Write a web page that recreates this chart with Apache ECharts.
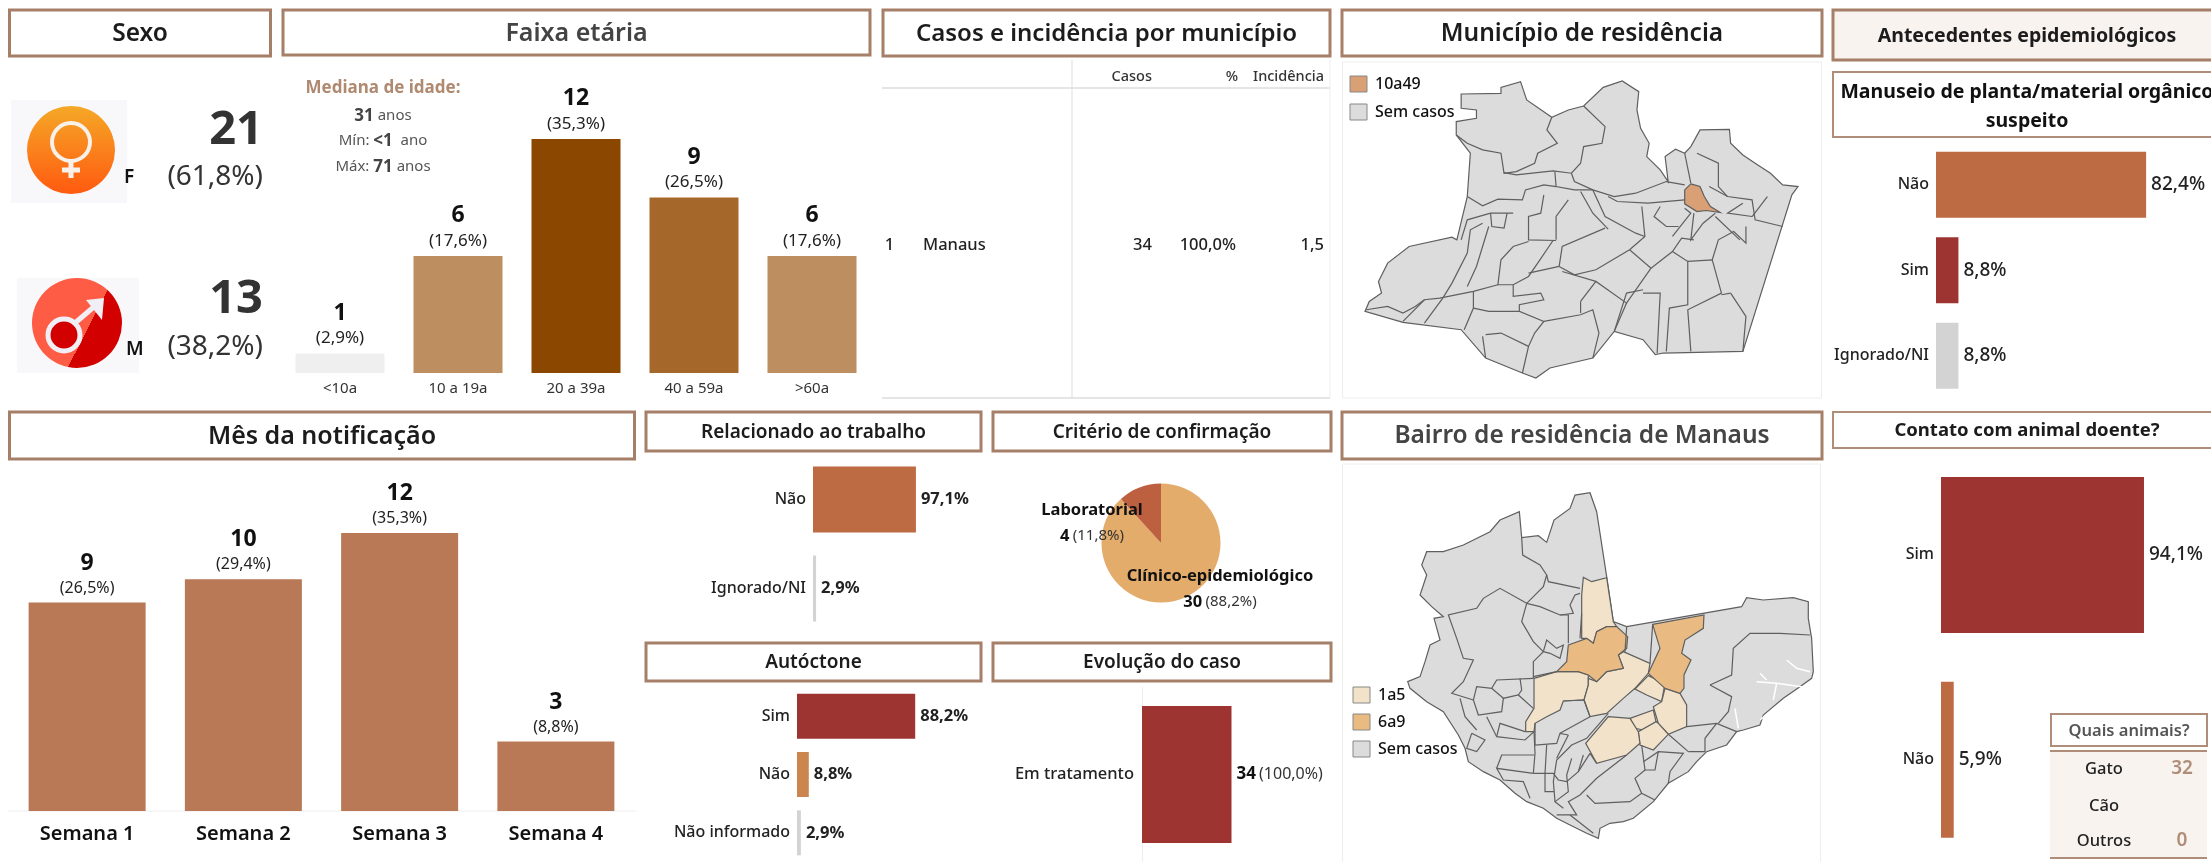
<!DOCTYPE html>
<html lang="pt">

<head>
  <meta charset="utf-8" />
  <style>
    html, body { margin: 0; height: 100%; background: #fff; }
    #container { width: 2211px; height: 862px; }
  </style>
</head>

<body>
  <div id="container"></div>
  <script src="https://cdn.jsdelivr.net/npm/echarts@6/dist/echarts.min.js"></script>
  <script>
    // ---- data ----
    const sexoLabels = ["F", "M"];
    const sexoCasos = [21, 13];
    const sexoPct = ["61,8%", "38,2%"];

    const faixaCats = ["<10a", "10 a 19a", "20 a 39a", "40 a 59a", ">60a"];
    const faixaCasos = [1, 6, 12, 9, 6];
    const faixaPct = ["2,9%", "17,6%", "35,3%", "26,5%", "17,6%"];
    const faixaCores = ["#efefef", "#bd8e5f", "#8b4700", "#a5682a", "#bd8e5f"];

    const semanaCats = ["Semana 1", "Semana 2", "Semana 3", "Semana 4"];
    const semanaCasos = [9, 10, 12, 3];
    const semanaPct = ["26,5%", "29,4%", "35,3%", "8,8%"];

    const trabalhoCats = ["Não", "Ignorado/NI"];
    const trabalhoPct = [97.1, 2.9];
    const autoctoneCats = ["Sim", "Não", "Não informado"];
    const autoctonePct = [88.2, 8.8, 2.9];
    const evolucaoCats = ["Em tratamento"];
    const evolucaoCasos = [34];
    const evolucaoPct = ["100,0%"];
    const manuseioCats = ["Não", "Sim", "Ignorado/NI"];
    const manuseioPct = [82.4, 8.8, 8.8];
    const contatoCats = ["Sim", "Não"];
    const contatoPct = [94.1, 5.9];

    const criterioCats = ["Clínico-epidemiológico", "Laboratorial"];
    const criterioCasos = [30, 4];
    const criterioPct = ["88,2%", "11,8%"];

    const tabelaHeader = ["Casos", "%", "Incidência"];
    const tabelaLinha = ["1", "Manaus", "34", "100,0%", "1,5"];

    const animaisCats = ["Gato", "Cão", "Outros"];
    const animaisVals = ["32", "", "0"];

    // municipalities of the state, traced by eye
    const amazonasContorno = [[965,282],[1030,280],[1030,262],[1062,245],[1072,300],[1113,352],[1140,330],[1165,318],[1197,262],[1228,243],[1255,275],[1252,330],[1258,385],[1272,430],[1268,470],[1290,510],[1303,545],[1298,470],[1315,448],[1330,460],[1340,440],[1355,390],[1403,388],[1405,430],[1425,465],[1445,490],[1470,520],[1490,555],[1515,560],[1505,585],[1425,1055],[1295,1060],[1282,1065],[1262,1020],[1215,995],[1180,1075],[1110,1105],[1087,1135],[1065,1120],[1005,1075],[965,990],[870,968],[808,935],[815,905],[835,880],[830,845],[845,790],[880,740],[950,712],[958,720],[975,590],[980,460],[957,405],[957,365],[990,355],[990,330],[965,325]];
    const amazonasManaus = [[1340,552],[1355,560],[1362,590],[1372,620],[1388,638],[1365,632],[1350,635],[1330,612],[1330,570]];
    const amazonasLimites = [
      [[1113,352],[1105,390],[1122,430],[1090,460],[1085,490],[1055,515],[1035,520],[1030,460],[1000,450],[975,430],[957,405]],
      [[1165,318],[1200,380],[1195,430],[1165,440],[1160,490],[1145,520],[1115,513],[1055,525],[1035,518]],
      [[1118,515],[1120,560],[1150,570],[1180,570],[1215,590],[1250,580],[1300,545],[1330,555]],
      [[1145,520],[1150,545],[1180,570]],
      [[975,590],[1000,618],[1025,598],[1065,600],[1070,570],[1100,555],[1120,560]],
      [[1330,600],[1270,610],[1220,605],[1205,590]],
      [[1160,575],[1180,640],[1205,688]],
      [[1180,570],[1200,650],[1250,700],[1265,710]],
      [[1100,585],[1095,640],[1075,650],[1075,720],[1120,722]],
      [[1140,600],[1120,650],[1120,720]],
      [[1200,685],[1130,740],[1125,800]],
      [[1115,722],[1090,790],[1075,830],[1050,855],[1025,855],[1030,780],[1050,740],[1075,725]],
      [[1125,800],[1075,820]],
      [[1125,800],[1150,825],[1185,810],[1240,750]],
      [[1050,640],[1013,640],[975,660],[965,720]],
      [[1013,640],[1015,680],[1035,685],[1040,640]],
      [[1000,670],[980,690],[975,760],[950,850],[935,895],[905,970]],
      [[1010,680],[990,800],[975,860]],
      [[1025,855],[985,875],[930,895],[905,900],[870,965]],
      [[810,930],[845,920],[870,940],[890,920],[905,900]],
      [[1050,855],[1050,890],[1095,880],[1100,900],[1060,915],[1060,935],[1100,965],[1085,1000],[1075,1040],[1065,1120]],
      [[985,875],[985,925],[970,990]],
      [[985,925],[1010,935],[1060,935]],
      [[1100,965],[1160,945],[1180,930],[1190,1000],[1180,1075]],
      [[1160,905],[1185,845],[1235,910],[1215,995]],
      [[1160,905],[1160,940]],
      [[1185,845],[1130,815]],
      [[1005,1005],[1030,1000],[1075,1040]],
      [[1005,1075],[1000,1010]],
      [[1240,750],[1275,805],[1310,755],[1325,715],[1345,720]],
      [[1275,805],[1235,910]],
      [[1335,785],[1335,915],[1305,925],[1300,1055]],
      [[1310,755],[1335,785],[1375,780],[1390,880],[1335,930],[1340,1055]],
      [[1405,880],[1390,885]],
      [[1405,880],[1430,950],[1425,1055]],
      [[1262,880],[1290,880],[1285,1060]],
      [[1215,995],[1235,880],[1262,870]],
      [[1375,780],[1385,720],[1410,695],[1430,730],[1430,680]],
      [[1240,750],[1265,710],[1260,620]],
      [[1330,625],[1340,640],[1310,710]],
      [[1345,640],[1340,720],[1360,670],[1380,640]],
      [[1290,620],[1280,650],[1300,680],[1320,680]],
      [[1370,560],[1400,590],[1440,600],[1445,660],[1490,680]],
      [[1400,590],[1385,560],[1385,490],[1350,460]],
      [[1425,610],[1400,640],[1440,650]],
      [[1465,590],[1440,650]],
      [[1340,550],[1330,460]],
      [[1380,650],[1420,720]]
    ];

    // neighbourhoods of Manaus, traced by eye
    const manausContorno = [[233,830],[270,815],[285,770],[300,720],[330,705],[312,640],[340,635],[305,605],[270,570],[290,510],[275,480],[290,440],[340,440],[400,420],[480,380],[510,345],[568,320],[575,398],[625,392],[650,412],[672,345],[720,310],[735,270],[780,263],[800,320],[830,515],[850,650],[890,665],[1235,605],[1250,578],[1300,585],[1390,578],[1435,590],[1435,640],[1445,700],[1450,800],[1445,820],[1410,845],[1360,880],[1300,930],[1290,960],[1240,975],[1220,980],[1190,1020],[1130,1040],[1100,1070],[1075,1100],[1015,1135],[970,1190],[910,1240],[880,1250],[840,1255],[810,1270],[805,1300],[770,1285],[720,1260],[680,1240],[640,1210],[590,1190],[555,1165],[510,1125],[460,1100],[415,1070],[405,1030],[385,990],[340,920],[290,890],[240,850]];
    const bairros6a9 = [
      [[715,720],[770,700],[790,715],[800,680],[830,665],[860,665],[893,695],[890,730],[865,750],[880,790],[830,800],[800,830],[775,810],[745,800],[680,800],[710,770]],
      [[968,658],[1122,630],[1120,670],[1065,705],[1055,745],[1083,765],[1062,810],[1062,850],[1050,865],[1005,850],[955,805],[990,730]]
    ];
    const bairros1a5 = [
      [[760,517],[785,530],[830,518],[850,650],[860,665],[830,665],[800,680],[790,715],[770,700],[755,700],[755,570]],
      [[612,820],[680,800],[745,800],[775,810],[775,840],[762,885],[700,888],[690,915],[650,935],[615,955],[612,980],[587,980],[587,950],[612,910]],
      [[880,740],[960,775],[955,805],[915,850],[880,880],[830,925],[780,935],[762,885],[775,840],[775,820],[800,830],[830,800],[880,790],[865,750]],
      [[955,812],[1005,835],[995,890],[950,870],[915,852]],
      [[1005,850],[1050,865],[1070,900],[1070,965],[1015,988],[985,955],[970,905],[995,890]],
      [[900,940],[970,915],[978,950],[940,975],[915,970]],
      [[985,955],[1015,988],[970,1035],[930,1020],[925,980],[978,950]],
      [[835,935],[900,940],[925,980],[930,1015],[890,1050],[800,1075],[767,1015]]
    ];
    const manausLimites = [
      [[575,398],[578,450],[630,480],[650,510],[640,545],[590,595]],
      [[650,510],[655,530],[750,550]],
      [[590,595],[510,550],[460,580],[440,610],[355,630],[380,700],[400,760],[430,765],[400,830],[365,865],[430,885]],
      [[590,595],[575,650],[610,710],[640,740],[610,770],[610,820]],
      [[590,595],[630,605],[690,630],[715,630],[715,715]],
      [[750,565],[735,570],[720,600],[730,625],[690,630]],
      [[755,625],[750,700]],
      [[640,740],[650,705],[680,730],[700,720],[690,760],[660,745],[640,740]],
      [[610,820],[500,825],[485,850],[440,845],[430,885],[445,930],[515,920],[520,880],[565,870],[610,910]],
      [[570,820],[575,855],[565,870]],
      [[485,850],[520,880]],
      [[680,800],[610,815]],
      [[390,880],[405,935],[440,975]],
      [[470,935],[500,995],[585,1005],[612,980]],
      [[500,995],[510,955],[585,980]],
      [[612,980],[615,1045],[610,1105]],
      [[615,955],[615,1020],[680,1015],[690,985],[715,990]],
      [[700,888],[762,885],[780,935],[690,985]],
      [[835,925],[770,1000],[725,1020],[680,1065],[670,1130],[675,1190]],
      [[715,990],[680,1060]],
      [[650,1020],[645,1105],[645,1160],[672,1160]],
      [[500,1090],[515,1050],[590,1050],[612,1050]],
      [[425,985],[465,1005],[440,1040],[410,1030],[425,985]],
      [[610,1105],[500,1090],[520,1125],[580,1130],[600,1180]],
      [[610,1105],[670,1105],[685,1125],[710,1130],[745,1100],[780,1045]],
      [[780,1045],[800,1075]],
      [[760,1050],[745,1100]],
      [[725,1060],[710,1110],[715,1160],[675,1190],[700,1210]],
      [[890,1050],[800,1120],[750,1170],[715,1190],[740,1230],[680,1230]],
      [[935,1020],[945,1095],[915,1120],[935,1165],[975,1185]],
      [[940,1070],[985,1040],[1060,1045],[1020,1100],[1015,1135]],
      [[985,1040],[975,1095],[945,1095]],
      [[770,1170],[795,1195],[900,1190],[935,1165]],
      [[720,1230],[790,1285]],
      [[1070,965],[1160,955],[1220,980]],
      [[1160,955],[1125,1000],[1125,1040],[1075,1040]],
      [[1015,988],[1075,1040]],
      [[890,665],[885,740]],
      [[968,658],[960,775]],
      [[1140,840],[1205,875],[1195,920],[1165,955]],
      [[1140,840],[1205,810],[1210,730],[1260,685],[1350,685],[1440,690]]
    ];
    const manausRios = [
      [[1280,830],[1340,835],[1415,845]],
      [[1340,835],[1330,885]],
      [[1290,805],[1310,825]],
      [[1370,765],[1400,790],[1440,800]],
      [[1215,910],[1225,970]],
      [[1290,945],[1350,895]]
    ];

    const FONT = '"Noto Sans", sans-serif';
    const BORDA = "#a67f68";
    const TXT = "#222";

    function feature(name, pts) {
      const ring = pts.concat([pts[0]]).map(function (p) { return [p[0], -p[1]]; });
      return { type: "Feature", properties: { name: name }, geometry: { type: "Polygon", coordinates: [ring] } };
    }
    function limites(list) {
      return list.map(function (l) {
        return { coords: l.map(function (p) { return [p[0], -p[1]]; }) };
      });
    }

    const amazonasGeo = { type: "FeatureCollection", features: [feature("Amazonas", amazonasContorno), feature("Manaus", amazonasManaus)] };
    const manausFeatures = [feature("Manaus", manausContorno)];
    const manausRegions = [];
    bairros1a5.forEach(function (b, i) {
      manausFeatures.push(feature("a" + i, b));
      manausRegions.push({ name: "a" + i, itemStyle: { areaColor: "#f1e2c9" } });
    });
    bairros6a9.forEach(function (b, i) {
      manausFeatures.push(feature("b" + i, b));
      manausRegions.push({ name: "b" + i, itemStyle: { areaColor: "#e9bb83" } });
    });
    echarts.registerMap("amazonas", amazonasGeo);
    echarts.registerMap("manaus", { type: "FeatureCollection", features: manausFeatures });

    var dom = document.getElementById("container");
    var myChart = echarts.init(dom, null, { renderer: "canvas" });

    // ---- small helpers for the graphic layer ----
    var g = [];
    function rect(x, y, w, h, stroke, lw, fill) {
      g.push({ type: "rect", z: 1, silent: true, shape: { x: x, y: y, width: w, height: h }, style: { fill: fill || "none", stroke: stroke, lineWidth: lw } });
    }
    function txt(x, y, text, size, opts) {
      opts = opts || {};
      g.push({
        type: "text", z: 20, silent: true, x: x, y: y,
        style: {
          text: text, fontFamily: FONT, fontSize: size, fontWeight: opts.weight || "normal",
          fill: opts.color || TXT, align: opts.align || "center", verticalAlign: "middle", rich: opts.rich
        }
      });
    }
    function line(x1, y1, x2, y2, color, lw) {
      g.push({ type: "line", z: 1, silent: true, shape: { x1: x1, y1: y1, x2: x2, y2: y2 }, style: { stroke: color, lineWidth: lw } });
    }
    function titleBox(x, y, w, h, text, size, opts) {
      opts = opts || {};
      rect(x, y, w, h, opts.stroke || BORDA, opts.lw || 3, opts.fill);
      txt(opts.cx || x + w / 2, y + h / 2 + 1, text, size, { weight: opts.weight || 600, color: opts.color || "#1c1c1c" });
    }

    titleBox(9.5, 10, 261, 46, "Sexo", 24.5);
    titleBox(283, 10, 587, 45, "Faixa etária", 25, { color: "#444" });
    titleBox(883, 10, 447, 46, "Casos e incidência por município", 24);
    titleBox(1342, 10, 480, 46, "Município de residência", 24.5);
    titleBox(1833, 10, 390, 50, "Antecedentes epidemiológicos", 19.5, { fill: "#f8f3ef", weight: 700, cx: 2027 });
    rect(1833, 72, 390, 65, "#b08d78", 2);
    txt(2027, 92, "Manuseio de planta/material orgânico", 19.5, { weight: 700, color: "#111" });
    txt(2027, 121, "suspeito", 19.5, { weight: 700, color: "#111" });
    titleBox(9.5, 412, 625, 47, "Mês da notificação", 25);
    titleBox(646, 412, 335, 39, "Relacionado ao trabalho", 19);
    titleBox(993, 412, 338, 39, "Critério de confirmação", 19);
    titleBox(646, 643, 335, 38, "Autóctone", 19);
    titleBox(993, 643, 338, 38, "Evolução do caso", 19);
    titleBox(1342, 412, 480, 47, "Bairro de residência de Manaus", 24.5, { color: "#444" });
    titleBox(1833, 412, 390, 36, "Contato com animal doente?", 18.5, { lw: 2, stroke: "#b08d78", weight: 700, cx: 2027 });

    // panel hairlines
    rect(1342.5, 62, 479, 336, "#eeeeee", 1);
    rect(1342.5, 464, 478, 410, "#eeeeee", 1);
    line(1072, 60, 1072, 398, "#dddddd", 1);
    line(882, 88, 1330, 88, "#dddddd", 1.5);
    line(882, 398, 1330, 398, "#dddddd", 1.5);
    line(1330, 60, 1330, 398, "#eeeeee", 1);
    line(8, 811, 636, 811, "#eeeeee", 1);

    // table
    [1152, 1238, 1324].forEach(function (x, i) {
      txt(x, 77, tabelaHeader[i], 14.5, { align: "right", color: "#333", weight: 500 });
    });
    txt(889.5, 245, tabelaLinha[0], 16.5, { weight: 500 });
    txt(923, 245, tabelaLinha[1], 16.5, { align: "left", weight: 500 });
    txt(1152, 245, tabelaLinha[2], 16.5, { align: "right", weight: 500 });
    txt(1236, 245, tabelaLinha[3], 16.5, { align: "right", weight: 500 });
    txt(1324, 245, tabelaLinha[4], 16.5, { align: "right", weight: 500 });

    // sex icons
    rect(11, 100, 116, 103, "none", 0, "#f8f8fb");
    rect(17, 278, 122, 95, "none", 0, "#f8f8fb");
    g.push({
      type: "circle", z: 2, silent: true, shape: { cx: 71, cy: 150, r: 44 },
      style: { fill: new echarts.graphic.LinearGradient(0, 0, 0, 1, [{ offset: 0, color: "#f5a827" }, { offset: 1, color: "#ff5a10" }]) }
    });
    g.push({ type: "circle", z: 3, silent: true, shape: { cx: 71, cy: 142, r: 19 }, style: { fill: "none", stroke: "#f8f1ea", lineWidth: 4 } });
    g.push({ type: "line", z: 3, silent: true, shape: { x1: 71, y1: 161, x2: 71, y2: 178 }, style: { stroke: "#f8f1ea", lineWidth: 5 } });
    g.push({ type: "line", z: 3, silent: true, shape: { x1: 62, y1: 170, x2: 80, y2: 170 }, style: { stroke: "#f8f1ea", lineWidth: 5 } });
    g.push({
      type: "circle", z: 2, silent: true, shape: { cx: 77, cy: 323, r: 45 },
      style: {
        fill: new echarts.graphic.LinearGradient(0.15, 0.37, 1.05, 0.83, [
          { offset: 0, color: "#ff5c45" }, { offset: 0.5, color: "#ff5c45" },
          { offset: 0.5, color: "#d30000" }, { offset: 1, color: "#d30000" }
        ])
      }
    });
    g.push({ type: "circle", z: 3, silent: true, shape: { cx: 64, cy: 335, r: 16 }, style: { fill: "#d30000", stroke: "#f0eff6", lineWidth: 5 } });
    g.push({ type: "line", z: 3, silent: true, shape: { x1: 75, y1: 323, x2: 96, y2: 305 }, style: { stroke: "#f0eff6", lineWidth: 5 } });
    g.push({ type: "polygon", z: 3, silent: true, shape: { points: [[104, 298], [86, 300], [102, 320]] }, style: { fill: "#f0eff6" } });

    txt(124, 178, sexoLabels[0], 19, { align: "left", weight: 600, color: "#111" });
    txt(126, 350, sexoLabels[1], 19, { align: "left", weight: 600, color: "#111" });
    txt(263, 131, String(sexoCasos[0]), 47, { align: "right", weight: "bold", color: "#333" });
    txt(263, 177, "(" + sexoPct[0] + ")", 28, { align: "right", color: "#333" });
    txt(263, 300, String(sexoCasos[1]), 47, { align: "right", weight: "bold", color: "#333" });
    txt(263, 347, "(" + sexoPct[1] + ")", 28, { align: "right", color: "#333" });

    // median block
    var bold = { n: { fontFamily: FONT, fontSize: 17, fontWeight: "bold", fill: "#444" }, t: { fontFamily: FONT, fontSize: 15, fill: "#555" } };
    txt(383, 88, "Mediana de idade:", 17, { weight: "bold", color: "#b08a70" });
    txt(383, 116, "{n|31} {t|anos}", 15, { rich: bold });
    txt(383, 141, "{t|Mín:} {n|<1} {t| ano}", 15, { rich: bold });
    txt(383, 167, "{t|Máx:} {n|71} {t|anos}", 15, { rich: bold });

    // map legends
    function legendItem(x, y, h, color, label) {
      rect(x, y, 17, h, "#888", 1, color);
      txt(x + 25, y + h / 2, label, 16, { align: "left", color: "#111", weight: 500 });
    }
    legendItem(1350, 76, 16, "#d99f75", "10a49");
    legendItem(1350, 104, 16, "#dcdcdc", "Sem casos");
    legendItem(1353, 687, 16, "#f1e2c9", "1a5");
    legendItem(1353, 714, 16, "#e9bb83", "6a9");
    legendItem(1353, 741, 16, "#dcdcdc", "Sem casos");

    // animals box
    rect(2051, 714, 156, 32, "#b08d78", 2);
    txt(2129, 731, "Quais animais?", 16.5, { weight: 600, color: "#555" });
    rect(2050, 751, 157, 107, "none", 0, "#f8f3ef");
    line(2050, 751, 2207, 751, "#b08d78", 2);
    line(2050, 858, 2207, 858, "#b08d78", 2);
    [769, 806, 841].forEach(function (y, i) {
      txt(2104, y, animaisCats[i], 16.5, { color: "#222", weight: 500 });
      if (animaisVals[i]) txt(2182, y, animaisVals[i], 19, { weight: 600, color: "#b08d78" });
    });

    // ---- grids and series ----
    var grids = [], xAxes = [], yAxes = [], series = [];

    function axisHidden(type, extra) {
      return Object.assign({ type: type, show: false }, extra);
    }

    // vertical bars with "count / (pct)" label
    function colunas(box, cats, vals, pct, colors, barW, cat, numSize, pctSize, maxV) {
      var i = grids.length;
      grids.push(box);
      xAxes.push({
        type: "category", gridIndex: i, data: cats,
        axisLine: { show: false }, axisTick: { show: false },
        axisLabel: { margin: cat.margin, fontFamily: FONT, fontSize: cat.size, color: cat.color, fontWeight: cat.weight || "normal" }
      });
      yAxes.push(axisHidden("value", { gridIndex: i, min: 0, max: maxV }));
      series.push({
        type: "bar", xAxisIndex: i, yAxisIndex: i, barWidth: barW, silent: true,
        data: vals.map(function (v, k) { return { value: v, itemStyle: { color: colors[k] || colors[0] } }; }),
        label: {
          show: true, position: "top", distance: 4,
          formatter: function (p) { return "{v|" + p.value + "}\n{p|(" + pct[p.dataIndex] + ")}"; },
          rich: {
            v: { fontFamily: FONT, fontSize: numSize, fontWeight: "bold", color: "#111", lineHeight: numSize + 6 },
            p: { fontFamily: FONT, fontSize: pctSize, color: "#222", lineHeight: pctSize + 5 }
          }
        }
      });
    }

    // horizontal bars with "pct" label
    function barras(box, cats, vals, colors, barW, maxV, catSize, labelFmt, opts) {
      var i = grids.length;
      grids.push(box);
      xAxes.push(axisHidden("value", { gridIndex: i, min: 0, max: maxV }));
      yAxes.push({
        type: "category", gridIndex: i, data: cats, inverse: true,
        axisLine: opts.axis ? { show: true, lineStyle: { color: "#eeeeee" } } : { show: false },
        axisTick: { show: false },
        axisLabel: { margin: opts.margin, fontFamily: FONT, fontSize: catSize, fontWeight: 500, color: "#222" }
      });
      series.push({
        type: "bar", xAxisIndex: i, yAxisIndex: i, barWidth: barW, silent: true,
        data: vals.map(function (v, k) { return { value: v, itemStyle: { color: colors[k] } }; }),
        label: Object.assign({ show: true, position: "right", distance: 5, formatter: labelFmt, fontFamily: FONT, color: "#222" }, opts.label)
      });
    }
    function virgula(p) { return p.value.toFixed(1).replace(".", ",") + "%"; }

    colunas({ left: 281, top: 139, width: 590, height: 234 }, faixaCats, faixaCasos, faixaPct, faixaCores, 89,
      { margin: 8, size: 15, color: "#333" }, 23, 17, 12);

    colunas({ left: 9, top: 533, width: 625, height: 278 }, semanaCats, semanaCasos, semanaPct, ["#b97856"], 117,
      { margin: 13, size: 20, color: "#111", weight: 600 }, 23, 16, 12);

    barras({ left: 813, top: 455, width: 106, height: 178 }, trabalhoCats, trabalhoPct, ["#bd6b42", "#d3d3d3"], 66, 100, 16, virgula,
      { margin: 7, label: { fontSize: 16.5, fontWeight: "bold" } });
    barras({ left: 797, top: 687, width: 134, height: 178.5 }, autoctoneCats, autoctonePct, ["#9e3431", "#cd8550", "#d3d3d3"], 45, 100, 16, virgula,
      { margin: 7, label: { fontSize: 16.5, fontWeight: "bold" } });
    barras({ left: 1142, top: 687, width: 89.5, height: 179 }, evolucaoCats, evolucaoCasos, ["#9e3431"], 137, 34, 16.5,
      function (p) { return "{v|" + p.value + "} {p|(" + evolucaoPct[p.dataIndex] + ")}"; },
      { margin: 8, axis: true, label: { rich: { v: { fontFamily: FONT, fontSize: 17, fontWeight: "bold", color: "#111" }, p: { fontFamily: FONT, fontSize: 16, color: "#333" } } } });
    barras({ left: 1936, top: 142, width: 255, height: 256.5 }, manuseioCats, manuseioPct, ["#bd6b42", "#9e3431", "#d3d3d3"], 66, 100, 16, virgula,
      { margin: 7, label: { fontSize: 19, fontWeight: 500 } });
    barras({ left: 1941, top: 452.5, width: 215.7, height: 414 }, contatoCats, contatoPct, ["#9e3431", "#bd6b42"], 156, 100, 16, virgula,
      { margin: 7, label: { fontSize: 19, fontWeight: 500 } });

    series.push({
      type: "pie", silent: true, center: [1161, 543], radius: 59.5, startAngle: 90, clockwise: true,
      data: criterioCats.map(function (c, i) {
        return { name: c, value: criterioCasos[i], itemStyle: { color: ["#e4ac6b", "#bd6040"][i] } };
      }),
      label: {
        show: true,
        formatter: function (p) {
          return "{n|" + p.name + "}\n{v|" + p.value + "} {p|(" + criterioPct[p.dataIndex] + ")}";
        },
        rich: {
          n: { fontFamily: FONT, fontSize: 16.5, fontWeight: "bold", color: "#111", lineHeight: 26 },
          v: { fontFamily: FONT, fontSize: 16.5, fontWeight: "bold", color: "#111", lineHeight: 26 },
          p: { fontFamily: FONT, fontSize: 15, color: "#333", lineHeight: 26 }
        }
      },
      labelLine: { show: false },
      labelLayout: function (p) {
        return p.dataIndex === 0
          ? { x: 1220, y: 589, align: "center", verticalAlign: "middle" }
          : { x: 1092, y: 523, align: "center", verticalAlign: "middle" };
      }
    });

    function mapLines(geoIndex, data, color, width) {
      series.push({
        type: "lines", coordinateSystem: "geo", geoIndex: geoIndex, polyline: true, silent: true,
        data: limites(data), lineStyle: { color: color, width: width, opacity: 1 }
      });
    }
    mapLines(0, amazonasLimites, "#5f5f5f", 1.2);
    mapLines(1, manausLimites, "#5f5f5f", 1.2);
    mapLines(1, manausRios, "#ffffff", 1.5);

    var geoBase = {
      silent: true, roam: false, label: { show: false },
      itemStyle: { areaColor: "#dcdcdc", borderColor: "#5f5f5f", borderWidth: 1.2 },
      emphasis: { disabled: true }
    };

    var option = {
      animation: false,
      backgroundColor: "#fff",
      tooltip: { show: false },
      grid: grids,
      xAxis: xAxes,
      yAxis: yAxes,
      geo: [
        Object.assign({}, geoBase, {
          map: "amazonas", left: 1365, top: 81, width: 433, height: 297, aspectScale: 1.84,
          regions: [{ name: "Manaus", itemStyle: { areaColor: "#d99f75" } }]
        }),
        Object.assign({}, geoBase, {
          map: "manaus", left: 1407.7, top: 492.7, width: 405.6, height: 345.6, aspectScale: 1,
          regions: manausRegions
        })
      ],
      series: series,
      graphic: g
    };

    myChart.setOption(option);
    window.addEventListener("resize", myChart.resize);
  </script>
</body>

</html>
